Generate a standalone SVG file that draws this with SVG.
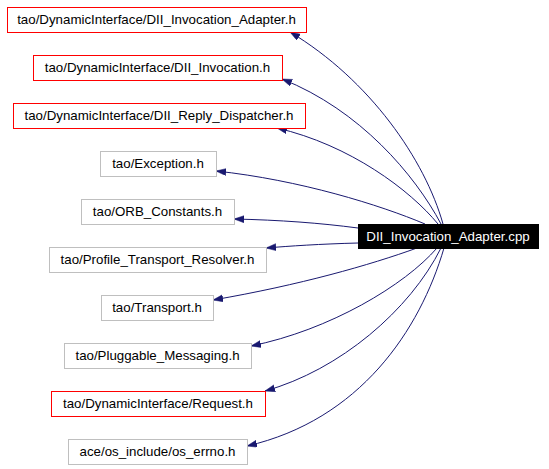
<svg xmlns="http://www.w3.org/2000/svg" width="549" height="469" viewBox="0 0 549 469">
<style>
.n rect{fill:#fff;stroke-width:1}
.r rect{stroke:#ff0000}
.g rect{stroke:#bfbfbf}
text{font-family:"Liberation Sans",Arial,sans-serif;font-size:13.3px;text-anchor:middle;fill:#000}
#main rect{fill:#000;stroke:#000}
#main text{fill:#fff}
#edges path{fill:none;stroke:#191970;stroke-width:1;marker-end:url(#ah)}
</style>
<defs>
<marker id="ah" markerUnits="userSpaceOnUse" markerWidth="11" markerHeight="8" refX="10" refY="3.5" orient="auto">
<path d="M0,0 L10,3.5 L0,7 z" fill="#191970" stroke="#191970" stroke-width="0.5"/>
</marker>
</defs>
<rect width="549" height="469" fill="#fff"/>
<g id="edges">
<path d="M443,224 C425,160 370,80 290,32"/>
<path d="M441,224 C415,175 360,110 282,79"/>
<path d="M438,224 C410,190 350,145 277,128"/>
<path d="M425,224 C380,205 300,180 216,171"/>
<path d="M358,228 C320,223 280,220 234,219"/>
<path d="M358,243 C320,244 290,246 266,248"/>
<path d="M417,248 C370,265 300,285 213,300"/>
<path d="M437,248 C405,285 330,330 251,346"/>
<path d="M441,248 C410,310 340,370 265,391"/>
<path d="M444,248 C420,330 360,420 247,446"/>
</g>
<g id="main"><rect x="358.5" y="224.5" width="180" height="24"/><text x="448" y="241">DII_Invocation_Adapter.cpp</text></g>
<g id="n1" class="n r"><rect x="7.5" y="7.5" width="299" height="25"/><text x="156.5" y="24">tao/DynamicInterface/DII_Invocation_Adapter.h</text></g>
<g id="n2" class="n r"><rect x="33.5" y="55.5" width="249" height="25"/><text x="157.5" y="72">tao/DynamicInterface/DII_Invocation.h</text></g>
<g id="n3" class="n r"><rect x="13.5" y="103.5" width="292" height="25"/><text x="159" y="120">tao/DynamicInterface/DII_Reply_Dispatcher.h</text></g>
<g id="n4" class="n g"><rect x="100.5" y="151.5" width="116" height="25"/><text x="158" y="168">tao/Exception.h</text></g>
<g id="n5" class="n g"><rect x="81.5" y="199.5" width="153" height="25"/><text x="157.5" y="216">tao/ORB_Constants.h</text></g>
<g id="n6" class="n g"><rect x="49.5" y="247.5" width="217" height="25"/><text x="157.5" y="264">tao/Profile_Transport_Resolver.h</text></g>
<g id="n7" class="n g"><rect x="101.5" y="295.5" width="112" height="25"/><text x="157" y="312">tao/Transport.h</text></g>
<g id="n8" class="n g"><rect x="64.5" y="343.5" width="187" height="25"/><text x="157.5" y="360">tao/Pluggable_Messaging.h</text></g>
<g id="n9" class="n r"><rect x="51.5" y="391.5" width="214" height="25"/><text x="158" y="408">tao/DynamicInterface/Request.h</text></g>
<g id="n10" class="n g"><rect x="68.5" y="439.5" width="179" height="25"/><text x="157.5" y="456">ace/os_include/os_errno.h</text></g>
</svg>
